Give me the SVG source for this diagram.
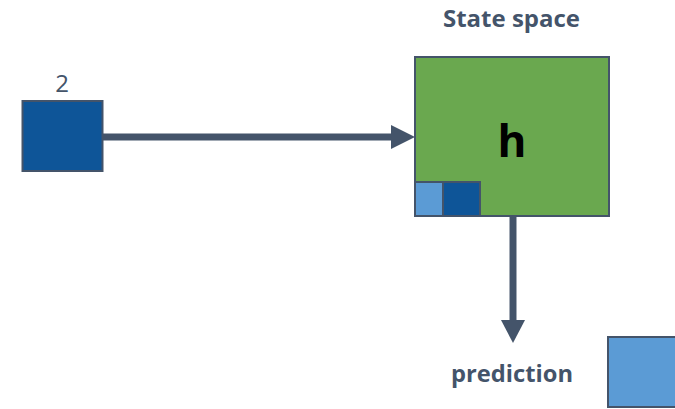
<svg xmlns="http://www.w3.org/2000/svg" width="675" height="409" viewBox="0 0 675 409">
  <defs>
    <style>
      .box { stroke: #44546a; stroke-width: 2; }
      .dark { fill: #0e5598; }
      .light { fill: #5b9bd5; }
      .state { fill: #6aa84f; }
      .lbl { font-family: "Open Sans", "Liberation Sans", sans-serif; fill: #44546a; }
      .wire { stroke: #44546a; stroke-width: 7; fill: none; }
      .head { fill: #44546a; }
    </style>
  </defs>

  <!-- input token -->
  <g id="input">
    <text class="lbl" x="62" y="92" font-size="24" text-anchor="middle">2</text>
    <rect class="box dark" x="22.5" y="101" width="80" height="70"/>
  </g>

  <!-- hidden state block -->
  <g id="state">
    <text class="lbl" x="443" y="27" font-size="23" font-weight="bold" textLength="137" lengthAdjust="spacingAndGlyphs">State space</text>
    <rect class="box state" x="415" y="57" width="194" height="159"/>
    <text x="512" y="157" font-family="'Open Sans', 'Liberation Sans', sans-serif" font-size="44" font-weight="bold" fill="#000" text-anchor="middle">h</text>
    <rect class="box light" x="415" y="182" width="28" height="34"/>
    <rect class="box dark" x="443" y="182" width="37" height="34"/>
  </g>

  <!-- output -->
  <g id="prediction">
    <text class="lbl" x="451" y="382" font-size="23" font-weight="bold" textLength="122" lengthAdjust="spacingAndGlyphs">prediction</text>
  </g>
  <g id="output">
    <rect class="box light" x="608" y="337" width="80" height="70"/>
  </g>

  <!-- connectors -->
  <g id="connectors">
    <line class="wire" x1="103" y1="137" x2="393" y2="137"/>
    <polygon class="head" points="391,125 415,137 391,149"/>
    <line class="wire" x1="513" y1="217" x2="513" y2="322"/>
    <polygon class="head" points="501,320 525,320 513,343"/>
  </g>
</svg>
